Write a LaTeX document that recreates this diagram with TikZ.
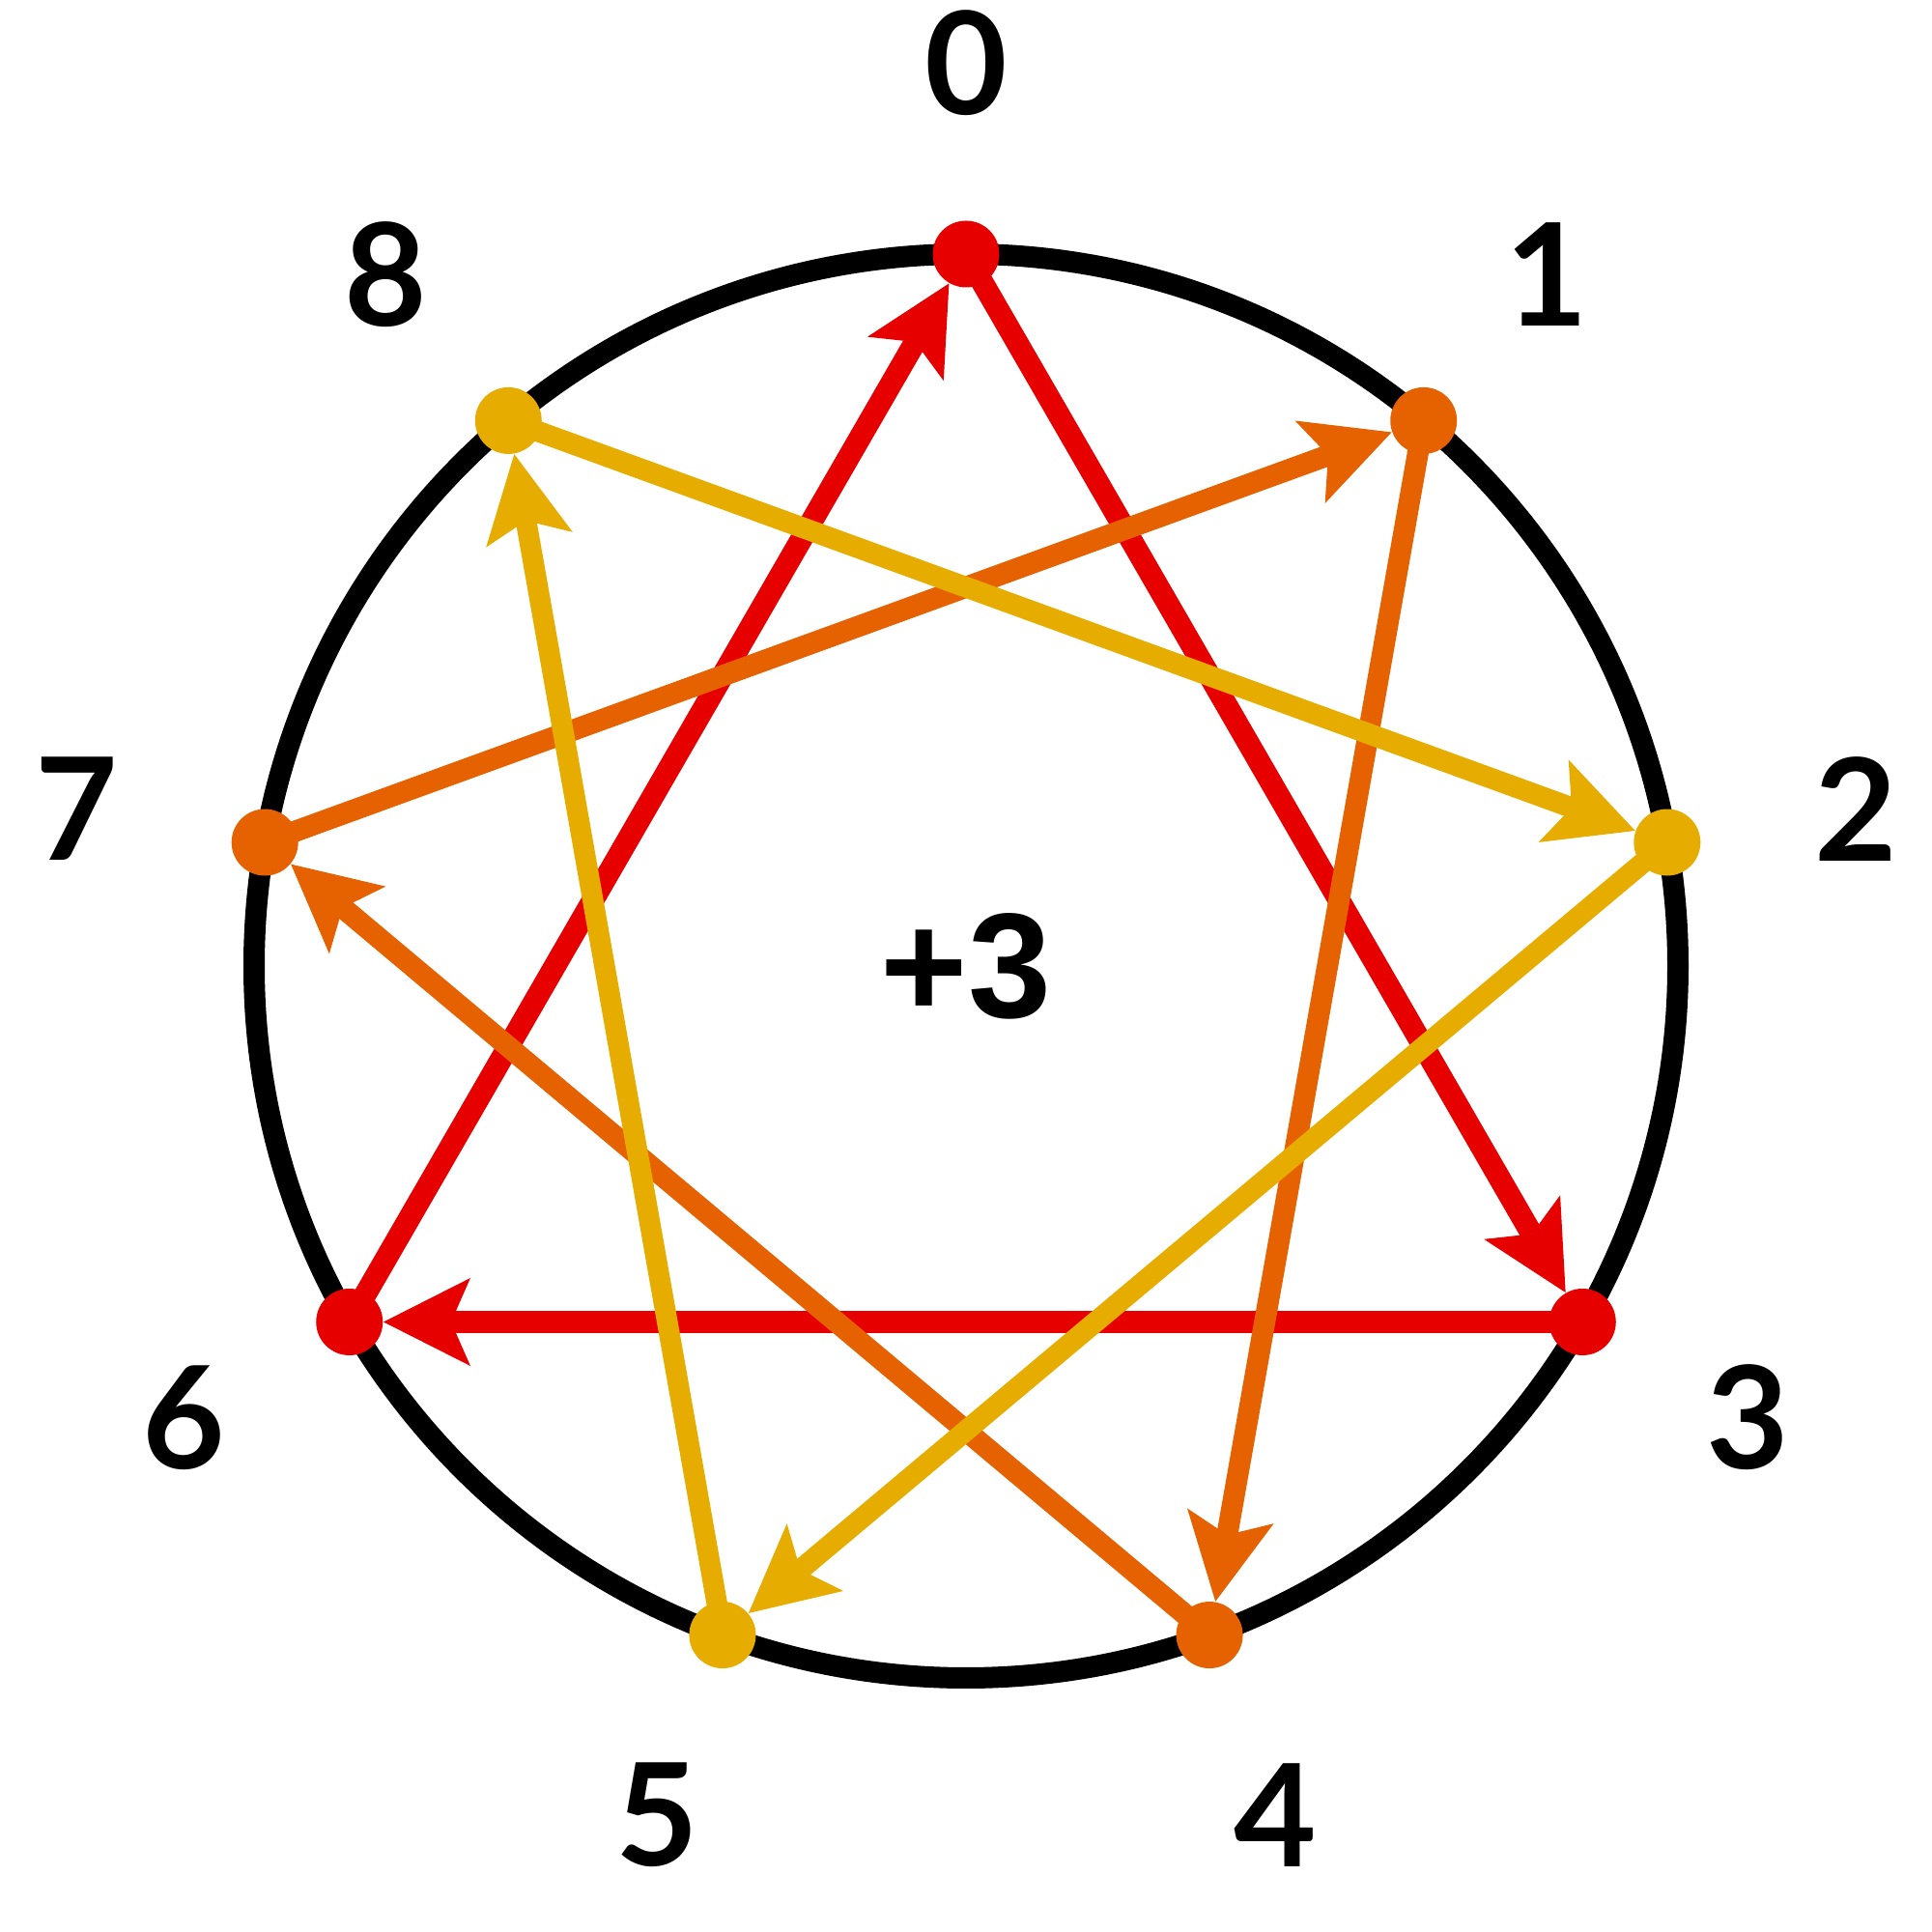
\documentclass[tikz,border=0pt]{standalone}
\usepackage{fontspec}
\setmainfont{Lato}
\newfontfamily\centerfont{Liberation Sans}
\usetikzlibrary{arrows.meta}
\definecolor{cred}{HTML}{E60000}
\definecolor{corange}{HTML}{E66100}
\definecolor{cyellow}{HTML}{E6AD00}
\pgfdeclarelayer{ringlayer}
\pgfdeclarelayer{edgelayer}
\pgfsetlayers{ringlayer,edgelayer,main}
\tikzset{
  dotnode/.style={circle, inner sep=0pt, minimum size=0.69cm, draw=none},
  lbl/.style={font=\fontsize{42}{50}\selectfont\bfseries, inner sep=0pt},
  edge/.style={line width=0.22cm, -{Stealth[length=0.9cm,width=0.91cm,inset=0.2cm,line width=0pt]}},
  rededge/.style={edge, cred, line width=0.23cm},
  orangeedge/.style={edge, corange, line width=0.22cm},
  yellowedge/.style={edge, cyellow, line width=0.215cm}
}
\begin{document}
\begin{tikzpicture}
\useasboundingbox (0,0) rectangle (20,20);
\def\R{7.37}
\def\L{9.35}
\begin{pgfonlayer}{ringlayer}
\draw[line width=0.22cm] (10,10) circle (\R);
\end{pgfonlayer}
\foreach \k/\c in {0/cred,1/corange,2/cyellow,3/cred,4/corange,5/cyellow,6/cred,7/corange,8/cyellow}{
  \node[dotnode, fill=\c] (n\k) at ({10+\R*sin(40*\k)},{10+\R*cos(40*\k)}) {};
  \node[lbl] (l\k) at ({10+\L*sin(40*\k)},{10+\L*cos(40*\k)}) {\k};
}
\node[font=\fontsize{44}{50}\selectfont\centerfont\bfseries, inner sep=0pt] (c) at (10,10) {+3};
\begin{pgfonlayer}{edgelayer}
\draw[rededge] (n0.center) -- (n3);
\draw[rededge] (n3.center) -- (n6);
\draw[rededge] (n6.center) -- (n0);
\draw[orangeedge] (n1.center) -- (n4);
\draw[orangeedge] (n4.center) -- (n7);
\draw[orangeedge] (n7.center) -- (n1);
\draw[yellowedge] (n2.center) -- (n5);
\draw[yellowedge] (n5.center) -- (n8);
\draw[yellowedge] (n8.center) -- (n2);
\end{pgfonlayer}
\end{tikzpicture}
\end{document}
